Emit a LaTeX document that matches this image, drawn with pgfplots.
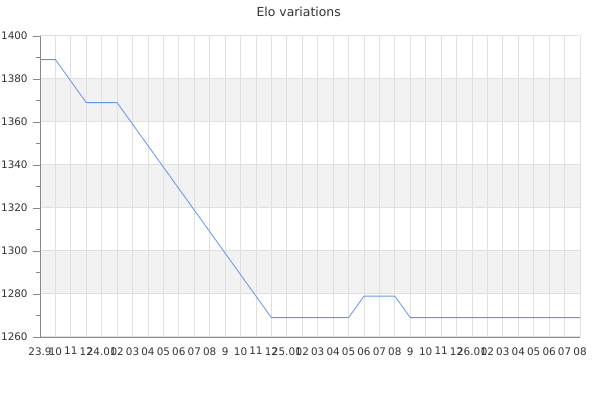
\documentclass[border=0pt]{standalone}
\usepackage{pgfplots}
\pgfplotsset{compat=1.18}
\usepackage{fontspec}
\setmainfont{DejaVu Sans}

\definecolor{bandgray}{HTML}{F2F2F2}
\definecolor{gridgray}{HTML}{E0E0E0}
\definecolor{axisgray}{HTML}{888888}
\definecolor{textgray}{HTML}{333333}
\definecolor{elo}{HTML}{6495ED}

\begin{document}
\begin{tikzpicture}
	\node[font=\fontsize{9.3}{11}\selectfont, text=textgray] at (224pt,291pt) {Elo variations};

	\begin{axis}[
		set layers,
		at				= {(30pt,47.25pt)},
		anchor			= south west,
		scale only axis,
		width			= 405pt,
		height			= 225.75pt,
		xmin			= 0,
		xmax			= 35,
		ymin			= 1260,
		ymax			= 1400,
		axis x line*	= bottom,
		axis y line*	= left,
		axis line style	= {axisgray, -},
		xtick			= {0,...,35},
		xticklabels		= {23.9,10,11,12,24.01,02,03,04,05,06,07,08,9,10,11,12,25.01,02,03,04,05,06,07,08,9,10,11,12,26.01,02,03,04,05,06,07,08},
		ytick			= {1260,1280,...,1400},
		minor ytick		= {1270,1290,...,1390},
		xmajorgrids,
		ymajorgrids,
		grid style		= {gridgray, line width=0.75pt},
		major x tick style = {draw=none},
		major y tick style = {axisgray},
		minor y tick style = {axisgray},
		tick align		= outside,
		major tick length = 5.25pt,
		minor tick length = 3pt,
		tick label style = {font=\fontsize{7.8}{9}\selectfont, text=textgray},
		yticklabel style = {/pgf/number format/1000 sep={}},
		/pgf/number format/assume math mode=true,
		xticklabel style = {yshift=1pt},
		yticklabel style = {xshift=-0.5pt},
	]

		% alternating background bands
		\addplot[fill = bandgray, draw = none, on layer = axis background] coordinates {(0,1280) (35,1280) (35,1300) (0,1300)} -- cycle;
		\addplot[fill = bandgray, draw = none, on layer = axis background] coordinates {(0,1320) (35,1320) (35,1340) (0,1340)} -- cycle;
		\addplot[fill = bandgray, draw = none, on layer = axis background] coordinates {(0,1360) (35,1360) (35,1380) (0,1380)} -- cycle;

		\addplot[color = elo, line width = 0.6pt, mark = none] coordinates {
			(0,1389) (1,1389) (3,1369) (5,1369) (15,1269) (20,1269)
			(21,1279) (23,1279) (24,1269) (35,1269)
		};

	\end{axis}
	\pgfresetboundingbox
	\useasboundingbox (0pt,0pt) rectangle (450pt,300pt);
\end{tikzpicture}
\end{document}
